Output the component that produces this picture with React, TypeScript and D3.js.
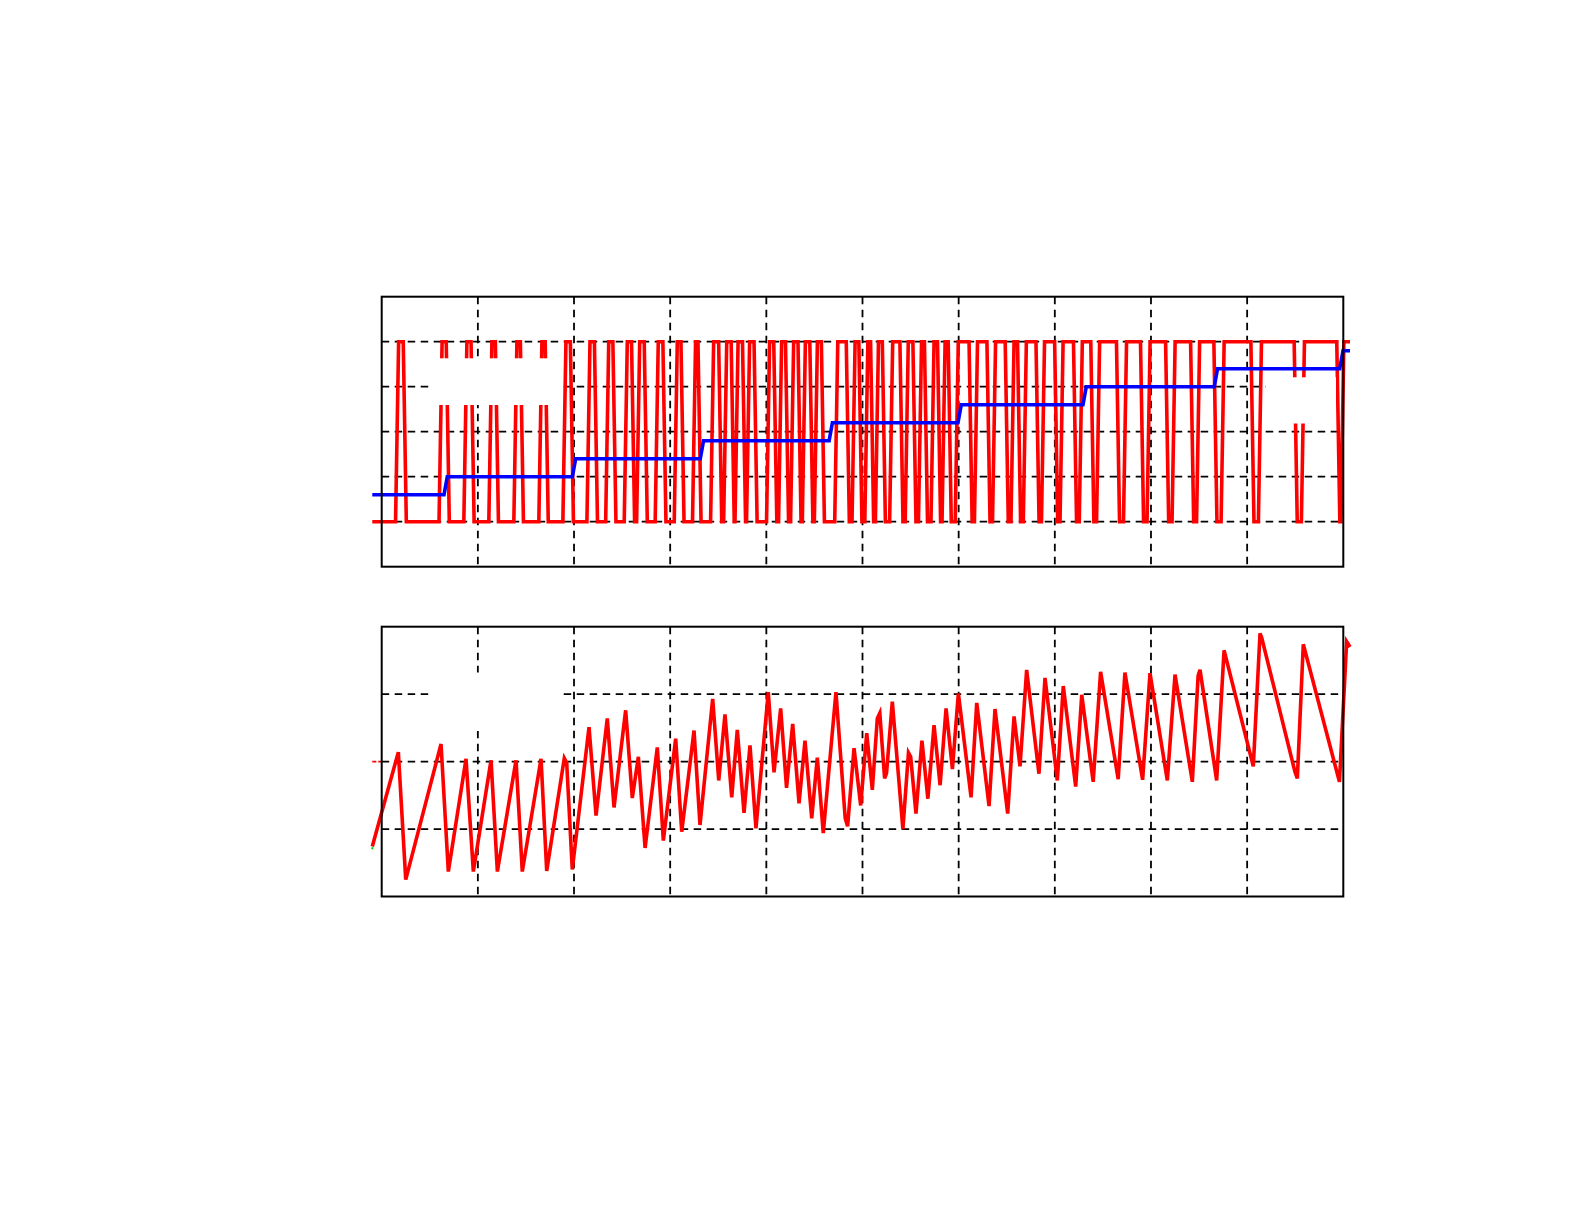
import React from 'react';
import * as d3 from 'd3';

// ---- axes ticks (no labels shown in the reference) ----
const X_TICKS = [1, 2, 3, 4, 5, 6, 7, 8, 9];
const TOP_Y_TICKS = [0, 1, 2, 3, 4];
const BOT_Y_TICKS = [-1, 0, 1];

// ---- data extent ----
const X_START = -0.098;
const X_END = 10.07;

// ---- blue staircase (input) ----
const BLUE_LEVELS = [0.6, 1.0, 1.4, 1.8, 2.2, 2.6, 3.0, 3.4, 3.8];
const BLUE_STEPS = [0.665, 2.0, 3.33, 4.67, 6.01, 7.31, 8.675, 9.98];

// ---- red bitstream (0 / 4): [rise, fall] of each high pulse ----
const BIT_LOW = 0;
const BIT_HIGH = 4;
const RED_PULSES: [number, number][] = [
  [0.16, 0.24], [0.612, 0.687], [0.87, 0.945], [1.13, 1.198], [1.39, 1.458],
  [1.65, 1.716], [1.9, 1.978], [2.15, 2.228], [2.345, 2.42], [2.538, 2.614],
  [2.667, 2.746], [2.86, 2.94], [3.058, 3.128], [3.248, 3.305], [3.436, 3.52],
  [3.572, 3.65], [3.69, 3.768], [3.81, 3.888], [4.018, 4.093], [4.143, 4.215],
  [4.268, 4.345], [4.39, 4.468], [4.515, 4.588], [4.727, 4.847], [4.907, 4.978],
  [5.04, 5.1], [5.15, 5.222], [5.298, 5.405], [5.46, 5.54], [5.598, 5.66],
  [5.728, 5.796], [5.843, 5.907], [5.98, 6.124], [6.18, 6.31], [6.368, 6.5],
  [6.56, 6.628], [6.688, 6.82], [6.877, 7.014], [7.07, 7.21], [7.27, 7.39],
  [7.45, 7.657], [7.73, 7.907], [7.975, 8.168], [8.235, 8.428], [8.49, 8.67],
  [8.745, 9.055], [9.133, 9.505], [9.58, 9.948], [9.99, 10.07],
];

// ---- red integrator output (bottom panel) ----
const INTEG_X = [
  -0.098, 0.173, 0.25, 0.617, 0.693, 0.877, 0.953, 1.137, 1.203, 1.397,
  1.462, 1.657, 1.716, 1.899, 1.924, 1.982, 2.156, 2.229, 2.346, 2.416,
  2.537, 2.606, 2.669, 2.739, 2.866, 2.929, 3.057, 3.12, 3.248, 3.31,
  3.442, 3.505, 3.57, 3.64, 3.698, 3.768, 3.83, 3.892, 4.02, 4.08,
  4.149, 4.21, 4.274, 4.34, 4.402, 4.472, 4.53, 4.592, 4.724, 4.82,
  4.845, 4.912, 4.981, 5.044, 5.102, 5.154, 5.18, 5.23, 5.25, 5.31,
  5.42, 5.478, 5.501, 5.556, 5.618, 5.68, 5.744, 5.807, 5.869, 5.935,
  5.997, 6.129, 6.188, 6.316, 6.378, 6.51, 6.576, 6.638, 6.707, 6.835,
  6.898, 7.026, 7.088, 7.217, 7.28, 7.399, 7.476, 7.659, 7.729, 7.913,
  7.99, 8.17, 8.25, 8.43, 8.49, 8.51, 8.683, 8.76, 9.064, 9.134,
  9.151, 9.497, 9.522, 9.584, 9.96, 10.035, 10.07,
];
const INTEG_Y = [
  -1.26, 0.14, -1.75, 0.26, -1.63, 0.04, -1.63, 0.02, -1.63, 0.02,
  -1.63, 0.04, -1.62, 0.05, -0.02, -1.6, 0.51, -0.8, 0.64, -0.68,
  0.76, -0.54, 0.07, -1.28, 0.21, -1.17, 0.34, -1.04, 0.46, -0.94,
  0.93, -0.28, 0.7, -0.53, 0.47, -0.76, 0.24, -0.99, 1.03, -0.16,
  0.79, -0.39, 0.56, -0.62, 0.31, -0.84, 0.06, -1.06, 1.03, -0.84,
  -0.96, 0.2, -0.65, 0.42, -0.42, 0.64, 0.72, -0.25, -0.17, 0.89,
  -1.0, 0.13, 0.07, -0.77, 0.31, -0.55, 0.54, -0.35, 0.79, -0.11,
  1.01, -0.53, 0.87, -0.66, 0.78, -0.77, 0.67, -0.07, 1.36, -0.18,
  1.24, -0.28, 1.12, -0.37, 0.99, -0.3, 1.33, -0.26, 1.32, -0.27,
  1.31, -0.28, 1.29, -0.3, 1.27, 1.36, -0.28, 1.65, -0.07, 1.9,
  1.84, -0.15, -0.25, 1.74, -0.3, 1.78, 1.7,
];

// tiny green trace visible at the start of the bottom panel
const GREEN_X = [-0.1, -0.094];
const GREEN_Y = [-1.3, -1.27];

export default function App() {
  const W = 1584;
  const H = 1222;
  const left = 381.7;
  const right = 1343.3;
  const top1 = 296.7, bot1 = 566.7;
  const top2 = 626.7, bot2 = 896.5;

  const x = d3.scaleLinear().domain([0, 10]).range([left, right]);
  const yTop = d3.scaleLinear().domain([-1, 5]).range([bot1, top1]);
  const yBot = d3.scaleLinear().domain([-2, 2]).range([bot2, top2]);

  // build bitstream polyline
  const RAMP = 0.016;
  const redPts: [number, number][] = [[X_START, BIT_LOW]];
  RED_PULSES.forEach(([r, f]) => {
    redPts.push([r - RAMP, BIT_LOW], [r + RAMP, BIT_HIGH]);
    if (f < X_END) redPts.push([f - RAMP, BIT_HIGH], [f + RAMP, BIT_LOW]);
    else redPts.push([X_END, BIT_HIGH]);
  });

  const BR = 0.017;
  const bluePts: [number, number][] = [[X_START, BLUE_LEVELS[0]]];
  BLUE_STEPS.forEach((s, i) => {
    bluePts.push([s - BR, BLUE_LEVELS[i]], [s + BR, BLUE_LEVELS[i + 1]]);
  });
  bluePts.push([X_END, BLUE_LEVELS[BLUE_LEVELS.length - 1]]);

  const integPts: [number, number][] = INTEG_X.map((v, i) => [v, INTEG_Y[i]]);
  const greenPts: [number, number][] = GREEN_X.map((v, i) => [v, GREEN_Y[i]]);

  const lineTop = d3.line<[number, number]>().x((d) => x(d[0])).y((d) => yTop(d[1]));
  const lineBot = d3.line<[number, number]>().x((d) => x(d[0])).y((d) => yBot(d[1]));

  const dash = '7.5,5.5';
  const gridW = 1.8;

  const grid = (t: number, b: number, yScale: d3.ScaleLinear<number, number>, yTicks: number[], key: string) => (
    <g key={key}>
      {X_TICKS.map((v) => (
        <line key={'v' + v} x1={x(v)} x2={x(v)} y1={t} y2={b} stroke="#000" strokeWidth={gridW} strokeDasharray={dash} />
      ))}
      {yTicks.map((v) => (
        <line key={'h' + v} x1={left} x2={right} y1={yScale(v)} y2={yScale(v)} stroke="#000" strokeWidth={gridW} strokeDasharray={dash} />
      ))}
    </g>
  );

  return (
    <svg width={W} height={H} style={{ position: 'absolute', left: 0, top: 0, background: '#fff' }}>
      <rect x={0} y={0} width={W} height={H} fill="#fff" />
      {grid(top1, bot1, yTop, TOP_Y_TICKS, 'g1')}
      {grid(top2, bot2, yBot, BOT_Y_TICKS, 'g2')}

      {/* top panel data */}
      <path d={lineTop(redPts) || ''} fill="none" stroke="#ff0000" strokeWidth={3.6} />
      <path d={lineTop(bluePts) || ''} fill="none" stroke="#0000ff" strokeWidth={3.6} />

      {/* bottom panel data */}
      <line x1={x(X_START)} x2={x(0)} y1={yBot(0)} y2={yBot(0)} stroke="#ff0000" strokeWidth={1.8} strokeDasharray="4,2" />
      <path d={lineBot(greenPts) || ''} fill="none" stroke="#00cc00" strokeWidth={2} />
      <path d={lineBot(integPts) || ''} fill="none" stroke="#ff0000" strokeWidth={3.6} />

      {/* blank legend boxes */}
      <rect x={433} y={358.3} width={127} height={46.7} fill="#fff" />
      <rect x={1266} y={377.3} width={70} height={46.2} fill="#fff" />
      <rect x={433} y={672.5} width={127} height={58.5} fill="#fff" />

      {/* frames */}
      <rect x={left} y={top1} width={right - left} height={bot1 - top1} fill="none" stroke="#000" strokeWidth={2} />
      <rect x={left} y={top2} width={right - left} height={bot2 - top2} fill="none" stroke="#000" strokeWidth={2} />
    </svg>
  );
}
